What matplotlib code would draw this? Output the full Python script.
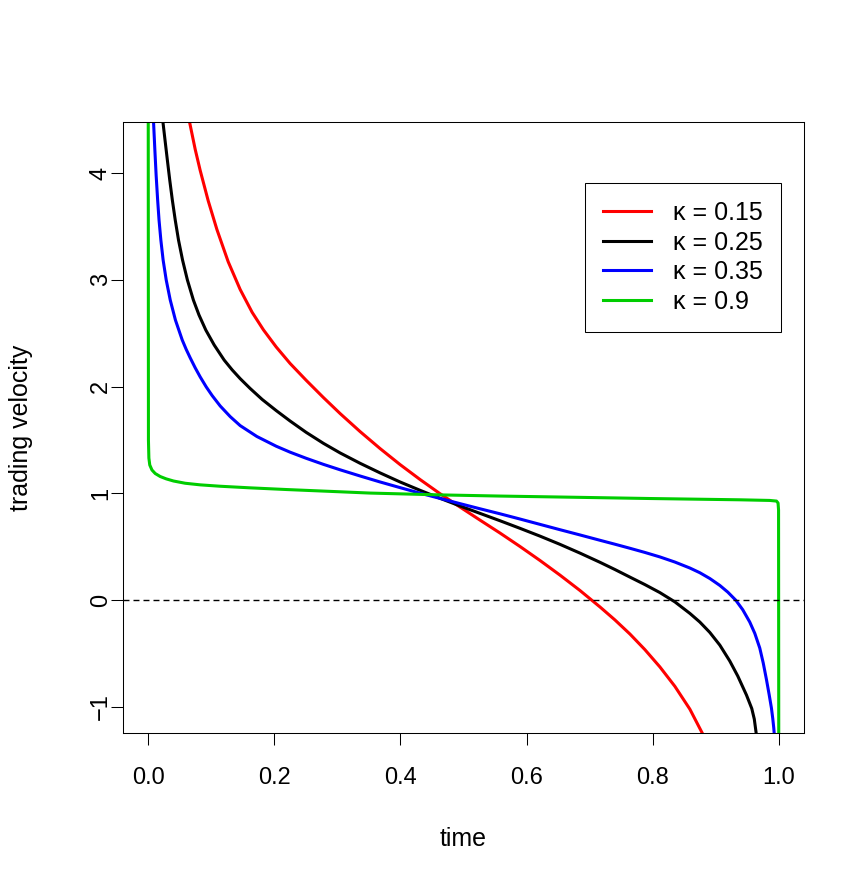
import matplotlib
matplotlib.use("Agg")
import matplotlib.pyplot as plt

plt.rcParams['font.family'] = ['Liberation Sans', 'DejaVu Sans']

# values (time, trading velocity)
t_015 = [0.0655, 0.0745, 0.0824, 0.0951, 0.1089, 0.1268, 0.1458, 0.1648, 0.1827, 0.2029,
         0.2250, 0.2504, 0.2778, 0.3043, 0.3360, 0.3677, 0.3994, 0.4311, 0.4628, 0.4945,
         0.5261, 0.5578, 0.5895, 0.6212, 0.6529, 0.6846, 0.7163, 0.7401, 0.7639, 0.7876,
         0.8114, 0.8352, 0.8590, 0.8803]
v_015 = [4.478, 4.221, 4.024, 3.740, 3.471, 3.169, 2.909, 2.695, 2.531, 2.371,
         2.216, 2.059, 1.897, 1.747, 1.578, 1.419, 1.269, 1.129, 0.996, 0.871,
         0.749, 0.628, 0.502, 0.371, 0.234, 0.090, -0.064, -0.186, -0.318, -0.464,
         -0.626, -0.808, -1.022, -1.265]

t_025 = [0.0233, 0.0266, 0.0303, 0.0341, 0.0382, 0.0428, 0.0480, 0.0544, 0.0621, 0.0716,
         0.0805, 0.0913, 0.1046, 0.1204, 0.1331, 0.1458, 0.1616, 0.1807, 0.2029, 0.2250,
         0.2504, 0.2778, 0.3043, 0.3360, 0.3677, 0.3994, 0.4311, 0.4628, 0.4945, 0.5261,
         0.5578, 0.5895, 0.6212, 0.6529, 0.6846, 0.7163, 0.7401, 0.7639, 0.7876, 0.8114,
         0.8352, 0.8590, 0.8748, 0.8906, 0.9065, 0.9223, 0.9350, 0.9488, 0.9572, 0.9612,
         0.9646]
v_025 = [4.478, 4.309, 4.122, 3.934, 3.747, 3.560, 3.372, 3.185, 2.998, 2.810,
         2.670, 2.529, 2.389, 2.248, 2.156, 2.074, 1.982, 1.879, 1.775, 1.677,
         1.571, 1.468, 1.378, 1.281, 1.191, 1.106, 1.028, 0.953, 0.881, 0.812,
         0.743, 0.672, 0.599, 0.522, 0.440, 0.354, 0.286, 0.215, 0.145, 0.070,
         -0.017, -0.125, -0.206, -0.303, -0.422, -0.571, -0.712, -0.890, -1.016, -1.115,
         -1.265]

t_035 = [0.0084, 0.0105, 0.0125, 0.0149, 0.0171, 0.0200, 0.0236, 0.0285, 0.0349, 0.0431,
         0.0539, 0.0602, 0.0666, 0.0745, 0.0824, 0.0919, 0.1014, 0.1141, 0.1300, 0.1458,
         0.1723, 0.2029, 0.2250, 0.2504, 0.2778, 0.3043, 0.3360, 0.3677, 0.3994, 0.4311,
         0.4628, 0.4945, 0.5261, 0.5578, 0.5895, 0.6212, 0.6529, 0.6846, 0.7163, 0.7401,
         0.7639, 0.7876, 0.8114, 0.8352, 0.8590, 0.8748, 0.8906, 0.9065, 0.9192, 0.9319,
         0.9429, 0.9540, 0.9620, 0.9699, 0.9754, 0.9805, 0.9849, 0.9884, 0.9905, 0.9921,
         0.9930]
v_035 = [4.478, 4.215, 3.981, 3.747, 3.560, 3.372, 3.185, 2.998, 2.810, 2.623,
         2.436, 2.348, 2.268, 2.175, 2.090, 1.997, 1.915, 1.818, 1.718, 1.634,
         1.532, 1.441, 1.385, 1.328, 1.271, 1.220, 1.162, 1.106, 1.053, 1.001,
         0.952, 0.903, 0.855, 0.808, 0.759, 0.709, 0.659, 0.610, 0.560, 0.523,
         0.485, 0.446, 0.404, 0.356, 0.300, 0.256, 0.202, 0.137, 0.074, -0.002,
         -0.091, -0.206, -0.312, -0.450, -0.590, -0.745, -0.890, -1.012, -1.110, -1.199,
         -1.265]

t_09 = [0.0, 0.0003, 0.0010, 0.0024, 0.0059, 0.0111, 0.0190, 0.0285, 0.0401, 0.0586,
        0.0824, 0.1141, 0.1616, 0.2198, 0.3043, 0.3518, 0.4628, 0.5578, 0.6529, 0.7956,
        0.9382, 0.9857, 0.9964, 0.9989, 0.9997, 1.0]
v_09 = [4.478, 1.499, 1.330, 1.265, 1.218, 1.185, 1.157, 1.135, 1.115, 1.094,
        1.079, 1.066, 1.051, 1.035, 1.014, 1.002, 0.985, 0.974, 0.965, 0.951,
        0.939, 0.933, 0.927, 0.909, 0.843, -1.265]

kappas = ["0.15", "0.25", "0.35", "0.9"]
colors = ["#FF0000", "#000000", "#0000FF", "#00CD00"]

fig = plt.figure(figsize=(8.67, 8.88), dpi=100)
ax = fig.add_axes([0.1419, 0.1745, 0.7854, 0.6881])

series = [(t_015, v_015), (t_025, v_025), (t_035, v_035), (t_09, v_09)]
for (t, v), k, c in zip(series, kappas, colors):
    ax.plot(t, v, color=c, lw=2.2, label="κ = " + k, solid_joinstyle="round")

ax.axhline(0, color="black", lw=1, linestyle=(0, (4.3, 2.9)))

ax.set_xlim(-0.04, 1.04)
ax.set_ylim(-1.246, 4.478)
ax.set_xticks([0.0, 0.2, 0.4, 0.6, 0.8, 1.0])
ax.set_xticklabels(["0.0", "0.2", "0.4", "0.6", "0.8", "1.0"])
ax.set_yticks([-1, 0, 1, 2, 3, 4])
ax.set_yticklabels(["\u22121", "0", "1", "2", "3", "4"], rotation=90, va="center")

ax.tick_params(direction="out", length=8.5, width=0.75, labelsize=17)
ax.tick_params(axis="x", pad=16)
ax.tick_params(axis="y", pad=-0.5)
for s in ax.spines.values():
    s.set_linewidth(0.75)

ax.set_xlabel("time", fontsize=18, labelpad=27)
ax.set_ylabel("trading velocity", fontsize=18, labelpad=41)

leg = ax.legend(loc="upper right", bbox_to_anchor=(0.966, 0.900), fontsize=18,
                fancybox=False, framealpha=1, edgecolor="black", handlelength=1.9,
                handletextpad=0.88, labelspacing=0.22, borderpad=0.72, borderaxespad=0)
leg.get_frame().set_linewidth(0.75)

fig.savefig("out.png", dpi=100)
